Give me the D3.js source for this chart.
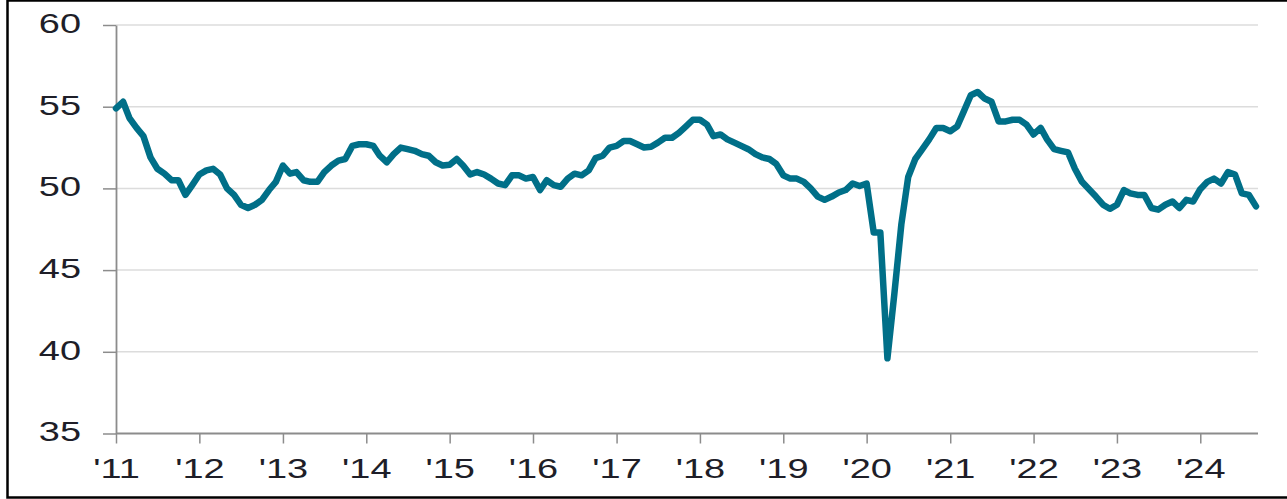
<!DOCTYPE html>
<html><head><meta charset="utf-8">
<style>
body { margin: 0; padding: 0; background: white; }
svg { display: block; font-family: 'Liberation Sans', Arial, sans-serif; }
</style>
</head>
<body>
<svg id="chart" width="1287" height="499"></svg>
<script src="https://cdnjs.cloudflare.com/ajax/libs/d3/7.8.5/d3.min.js"></script>
<script>
// monthly index, Jan 2011 .. Sep 2024
const startMonth = new Date(2011, 0, 1);
const v2011 = [54.9, 55.3, 54.3, 53.7, 53.2, 51.9, 51.2, 50.9, 50.5, 50.5, 49.6, 50.2];
const v2012 = [50.85, 51.1, 51.2, 50.85, 50.0, 49.6, 49.0, 48.8, 49.0, 49.3, 49.9, 50.4];
const v2013 = [51.4, 50.9, 51.0, 50.5, 50.4, 50.4, 51.0, 51.4, 51.7, 51.8, 52.6, 52.7];
const v2014 = [52.7, 52.6, 52.0, 51.6, 52.1, 52.5, 52.4, 52.3, 52.1, 52.0, 51.6, 51.4];
const v2015 = [51.45, 51.8, 51.4, 50.85, 51.0, 50.85, 50.6, 50.3, 50.2, 50.8, 50.8, 50.6];
const v2016 = [50.7, 49.9, 50.5, 50.2, 50.1, 50.6, 50.9, 50.8, 51.1, 51.85, 52.0, 52.5];
const v2017 = [52.6, 52.9, 52.9, 52.7, 52.5, 52.55, 52.8, 53.1, 53.1, 53.4, 53.8, 54.2];
const v2018 = [54.2, 53.9, 53.2, 53.3, 53.0, 52.8, 52.6, 52.4, 52.1, 51.9, 51.8, 51.5];
const v2019 = [50.8, 50.6, 50.6, 50.4, 50.0, 49.5, 49.3, 49.5, 49.75, 49.9, 50.3, 50.15];
const v2020 = [50.3, 47.3, 47.3, 39.6, 43.5, 47.8, 50.7, 51.8, 52.4, 53.0, 53.7, 53.7];
const v2021 = [53.5, 53.8, 54.7, 55.7, 55.9, 55.5, 55.3, 54.1, 54.1, 54.2, 54.2, 53.9];
const v2022 = [53.3, 53.7, 53.0, 52.4, 52.3, 52.2, 51.2, 50.4, 49.95, 49.5, 49.0, 48.75];
const v2023 = [49.0, 49.9, 49.7, 49.6, 49.6, 48.8, 48.7, 49.0, 49.2, 48.8, 49.3, 49.2];
const v2024 = [49.95, 50.4, 50.6, 50.3, 51.0, 50.85, 49.7, 49.6, 48.9];

const yTicks = [35, 40, 45, 50, 55, 60];

const values = [].concat(v2011, v2012, v2013, v2014, v2015, v2016, v2017,
  v2018, v2019, v2020, v2021, v2022, v2023, v2024);
const data = values.map((v, i) => ({ date: d3.timeMonth.offset(startMonth, i), v: v }));

const svg = d3.select("#chart");
const plotL = 116, plotR = 1258, plotT = 25, plotB = 433.5;
const stretch = 1.38; // labels in the source are wide

// frame
svg.append("rect")
  .attr("x", 7.5).attr("y", 0.5)
  .attr("width", 1295).attr("height", 497)
  .attr("fill", "none").attr("stroke", "#000").attr("stroke-width", 2.5);

const x = d3.scaleTime()
  .domain([startMonth, data[data.length - 1].date])
  .range([plotL, 1256]);

const y = d3.scaleLinear().domain([35, 60]).range([plotB, plotT]);

// gridlines
svg.append("g")
  .selectAll("line")
  .data(yTicks.filter(d => d > 35))
  .join("line")
  .attr("x1", plotL).attr("x2", plotR)
  .attr("y1", d => y(d)).attr("y2", d => y(d))
  .attr("stroke", "#dcdcdc").attr("stroke-width", 1.5);

// y axis
const yAxis = svg.append("g")
  .attr("transform", `translate(${plotL},0)`)
  .call(d3.axisLeft(y).tickValues(yTicks).tickSize(13).tickSizeOuter(0));
yAxis.select(".domain").attr("stroke", "#8c8c8c").attr("stroke-width", 1.8);
yAxis.selectAll(".tick line").attr("stroke", "#8c8c8c").attr("stroke-width", 1.5);
yAxis.selectAll(".tick text")
  .attr("x", -35 / stretch)
  .attr("dy", "0.27em")
  .attr("transform", `scale(${stretch},1)`)
  .attr("fill", "#1e1e28")
  .style("font-size", "27.5px")
  .style("font-family", "'Liberation Sans', Arial, sans-serif");

// x axis
const xAxis = svg.append("g")
  .attr("transform", `translate(0,${plotB})`)
  .call(d3.axisBottom(x)
    .ticks(d3.timeYear.every(1))
    .tickFormat(d3.timeFormat("'%y"))
    .tickSize(10).tickSizeOuter(0));
xAxis.select(".domain").remove();
xAxis.append("line")
  .attr("x1", plotL).attr("x2", plotR)
  .attr("stroke", "#8c8c8c").attr("stroke-width", 1.8);
xAxis.selectAll(".tick line").attr("stroke", "#8c8c8c").attr("stroke-width", 1.5);
xAxis.selectAll(".tick text")
  .attr("y", 45)
  .attr("dy", 0)
  .attr("transform", `scale(${stretch},1)`)
  .attr("fill", "#1e1e28")
  .style("font-size", "27.5px")
  .style("font-family", "'Liberation Sans', Arial, sans-serif");

// series
const line = d3.line()
  .x(d => x(d.date))
  .y(d => y(d.v));

svg.append("path")
  .datum(data)
  .attr("d", line)
  .attr("fill", "none")
  .attr("stroke", "#006f88")
  .attr("stroke-width", 6.5)
  .attr("stroke-linejoin", "round")
  .attr("stroke-linecap", "round");
</script>
</body>
</html>
